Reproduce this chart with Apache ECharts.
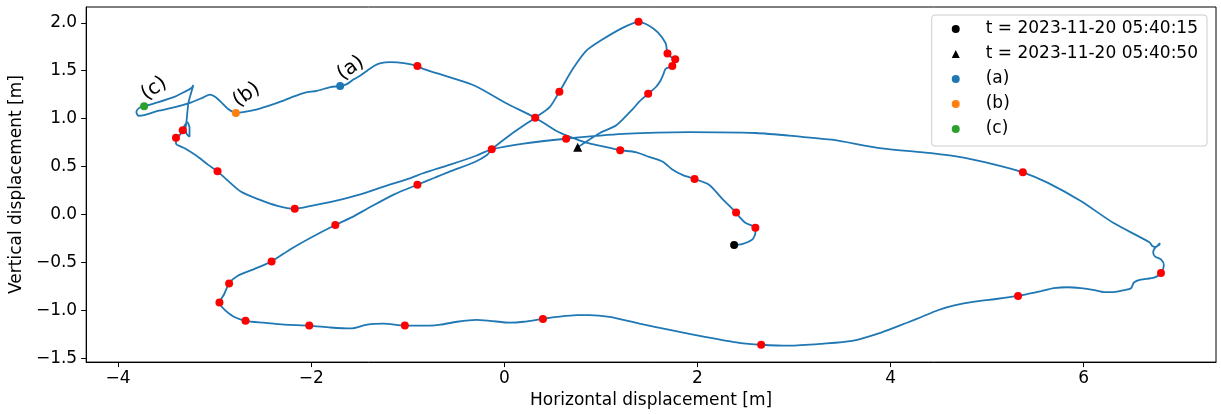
<!DOCTYPE html>
<html>
<head>
<meta charset="utf-8">
<script src="https://cdn.jsdelivr.net/npm/echarts@6/dist/echarts.min.js"></script>
<style>
  html, body { margin: 0; padding: 0; background: #fff; }
  #chart { width: 1221px; height: 414px; }
</style>
</head>
<body>
<div id="chart"></div>
<script>
// Trajectory of the tracked point, in time order (metres)
const pathX = [
  2.38, 2.46, 2.57, 2.60, 2.60, 2.50, 2.43, 2.40, 2.26, 2.12,
  1.97, 1.85, 1.74, 1.64, 1.50, 1.36, 1.20, 1.02, 0.85, 0.68,
  0.54, 0.32, 0.02, -0.30, -0.56, -0.84, -0.90, -1.04, -1.18, -1.28,
  -1.35, -1.42, -1.49, -1.56, -1.63, -1.70, -1.80, -1.94, -2.07, -2.21,
  -2.31, -2.42, -2.55, -2.69, -2.78, -2.86, -2.93, -3.00, -3.05, -3.12,
  -3.24, -3.41, -3.59, -3.72, -3.79, -3.81, -3.77, -3.73, -3.59, -3.41,
  -3.31, -3.24, -3.22, -3.24, -3.27, -3.28, -3.29, -3.30, -3.29, -3.26,
  -3.26, -3.28, -3.31, -3.33, -3.36, -3.40, -3.40, -3.31, -3.17, -3.07,
  -2.97, -2.86, -2.73, -2.55, -2.35, -2.17, -2.00, -1.76, -1.49, -1.25,
  -0.97, -0.84, -0.56, -0.30, -0.13, 0.20, 0.64, 1.23, 1.91, 2.60,
  3.08, 3.39, 3.91, 4.42, 4.77, 5.08, 5.37, 5.63, 5.97, 6.31,
  6.68, 6.71, 6.74, 6.78, 6.79, 6.76, 6.73, 6.72, 6.74, 6.80,
  6.83, 6.80, 6.73, 6.59, 6.52, 6.49, 6.42, 6.31, 6.21, 6.11,
  5.97, 5.83, 5.69, 5.56, 5.42, 5.32, 5.11, 4.87, 4.66, 4.49,
  4.32, 4.17, 3.91, 3.60, 3.29, 2.95, 2.66, 2.43, 2.09, 1.74,
  1.40, 1.09, 0.88, 0.75, 0.54, 0.40, 0.20, 0.06, -0.15, -0.29,
  -0.49, -0.66, -0.77, -1.03, -1.25, -1.42, -1.59, -1.80, -2.02, -2.28,
  -2.49, -2.68, -2.83, -2.95, -2.90, -2.85, -2.76, -2.59, -2.41, -2.21,
  -2.00, -1.75, -1.56, -1.42, -1.14, -0.90, -0.73, -0.56, -0.30, -0.18,
  -0.13, 0.06, 0.32, 0.47, 0.57, 0.71, 0.85, 0.99, 1.23, 1.39,
  1.50, 1.59, 1.67, 1.68, 1.69, 1.73, 1.77, 1.74, 1.67, 1.65,
  1.62, 1.57, 1.49, 1.40, 1.33, 1.16, 0.99, 0.76
];
const pathY = [
  -0.32, -0.31, -0.26, -0.19, -0.14, -0.09, -0.02, 0.02, 0.16, 0.31,
  0.37, 0.41, 0.47, 0.55, 0.60, 0.65, 0.67, 0.71, 0.75, 0.81,
  0.87, 1.01, 1.16, 1.34, 1.43, 1.52, 1.55, 1.58, 1.59, 1.58,
  1.55, 1.50, 1.45, 1.41, 1.36, 1.34, 1.33, 1.29, 1.27, 1.22,
  1.18, 1.14, 1.10, 1.07, 1.06, 1.10, 1.17, 1.23, 1.25, 1.22,
  1.17, 1.12, 1.08, 1.04, 1.03, 1.07, 1.12, 1.13, 1.17, 1.23,
  1.28, 1.32, 1.35, 1.28, 1.17, 1.09, 0.98, 0.90, 0.84, 0.81,
  0.90, 0.96, 0.93, 0.88, 0.83, 0.80, 0.74, 0.69, 0.60, 0.52,
  0.45, 0.35, 0.24, 0.16, 0.09, 0.06, 0.09, 0.14, 0.21, 0.29,
  0.38, 0.43, 0.52, 0.61, 0.68, 0.74, 0.79, 0.84, 0.86, 0.85,
  0.81, 0.78, 0.69, 0.64, 0.59, 0.52, 0.44, 0.33, 0.14, -0.09,
  -0.29, -0.33, -0.34, -0.32, -0.30, -0.33, -0.36, -0.40, -0.44, -0.47,
  -0.53, -0.61, -0.66, -0.68, -0.71, -0.77, -0.79, -0.81, -0.81, -0.79,
  -0.77, -0.76, -0.77, -0.80, -0.83, -0.85, -0.88, -0.91, -0.95, -1.00,
  -1.07, -1.13, -1.23, -1.32, -1.35, -1.37, -1.36, -1.34, -1.28, -1.21,
  -1.14, -1.07, -1.05, -1.05, -1.07, -1.09, -1.12, -1.13, -1.11, -1.10,
  -1.12, -1.15, -1.16, -1.16, -1.14, -1.15, -1.19, -1.18, -1.16, -1.15,
  -1.13, -1.11, -1.05, -0.92, -0.83, -0.72, -0.64, -0.57, -0.49, -0.36,
  -0.24, -0.11, -0.02, 0.06, 0.21, 0.31, 0.38, 0.45, 0.55, 0.62,
  0.68, 0.83, 1.01, 1.12, 1.28, 1.52, 1.71, 1.81, 1.95, 2.01,
  1.97, 1.90, 1.79, 1.74, 1.68, 1.64, 1.62, 1.55, 1.52, 1.47,
  1.40, 1.33, 1.26, 1.18, 1.10, 0.93, 0.85, 0.70
];

// Regularly sampled positions along the trajectory
const sampleX = [
  2.60, 2.40, 1.97, 1.20, 0.64, 0.32, 0.57, 1.39, 1.69, 1.77,
  1.74, 1.49, -0.13, -0.90, -3.33, -3.40, -2.97, -2.17, -0.90, -1.75,
  5.37, 6.80, 5.32, 2.66, 0.40, -1.03, -2.02, -2.68, -2.95, -2.85, -2.41
];
const sampleY = [
  -0.14, 0.02, 0.37, 0.67, 0.79, 1.01, 1.28, 2.01, 1.68, 1.62,
  1.55, 1.26, 0.68, 1.55, 0.88, 0.80, 0.45, 0.06, 0.31, -0.11,
  0.44, -0.61, -0.85, -1.36, -1.09, -1.16, -1.16, -1.11, -0.92, -0.72, -0.49
];

// Start and end of the record
const startName = 't = 2023-11-20 05:40:15';
const endName = 't = 2023-11-20 05:40:50';
const startPoint = [2.38, -0.32];
const endPoint = [0.76, 0.70];

// Marked positions
const tagNames = ['(a)', '(b)', '(c)'];
const tagX = [-1.70, -2.78, -3.73];
const tagY = [1.34, 1.06, 1.13];
const tagColors = ['#1f77b4', '#ff7f0e', '#2ca02c'];

// Axis ticks
const xTicks = [-4, -2, 0, 2, 4, 6];
const yTicks = [-1.5, -1.0, -0.5, 0.0, 0.5, 1.0, 1.5, 2.0];

const FONT = 'DejaVu Sans';
const minus = s => s.replace('-', '\u2212');

const pathData = pathX.map((x, i) => [x, pathY[i]]);
const sampleData = sampleX.map((x, i) => [x, sampleY[i]]);

const series = [
  {
    type: 'line',
    data: pathData,
    showSymbol: false,
    smooth: 0.25,
    lineStyle: { color: '#1f77b4', width: 1.8 },
    silent: true,
    z: 2
  },
  {
    type: 'scatter',
    data: sampleData,
    symbol: 'circle',
    symbolSize: 8,
    itemStyle: { color: '#ff0000', opacity: 1 },
    z: 3
  },
  {
    name: startName,
    type: 'scatter',
    data: [startPoint],
    symbol: 'circle',
    symbolSize: 8,
    itemStyle: { color: '#000000', opacity: 1 },
    z: 4
  },
  {
    name: endName,
    type: 'scatter',
    data: [endPoint],
    symbol: 'triangle',
    symbolSize: 9,
    itemStyle: { color: '#000000', opacity: 1 },
    z: 4
  }
];

tagNames.forEach((name, i) => {
  series.push({
    name: name,
    type: 'scatter',
    data: [[tagX[i], tagY[i]]],
    symbol: 'circle',
    symbolSize: 8,
    itemStyle: { color: tagColors[i], opacity: 1 },
    label: {
      show: true,
      formatter: name,
      position: 'right',
      distance: 2,
      rotate: 35,
      align: 'left',
      verticalAlign: 'bottom',
      offset: [0, -2],
      fontFamily: FONT,
      fontSize: 20,
      color: '#000'
    },
    z: 4
  });
});

const chart = echarts.init(document.getElementById('chart'), null, { renderer: 'canvas' });
chart.setOption({
  animation: false,
  backgroundColor: '#fff',
  textStyle: { fontFamily: FONT },
  grid: {
    left: 81, right: 5, top: 7, bottom: 48,
    show: true, borderColor: '#000', borderWidth: 1, backgroundColor: 'transparent'
  },
  legend: {
    orient: 'vertical',
    right: 14,
    top: 15,
    data: [
      { name: startName, icon: 'circle' },
      { name: endName, icon: 'triangle' },
      { name: '(a)', icon: 'circle' },
      { name: '(b)', icon: 'circle' },
      { name: '(c)', icon: 'circle' }
    ],
    itemWidth: 8,
    itemHeight: 8,
    itemGap: 5,
    padding: [4, 9, 7, 20],
    backgroundColor: '#fff',
    borderColor: '#cccccc',
    borderWidth: 1,
    borderRadius: 3,
    selectedMode: false,
    itemStyle: { opacity: 1 },
    textStyle: {
      fontFamily: FONT,
      fontSize: 17,
      color: '#000',
      lineHeight: 20,
      padding: [0, 0, 0, 21]
    }
  },
  xAxis: {
    type: 'value',
    min: -4.33,
    max: 7.37,
    name: 'Horizontal displacement [m]',
    nameLocation: 'middle',
    nameGap: 28,
    nameTextStyle: { fontFamily: FONT, fontSize: 17, color: '#000' },
    axisLine: { onZero: false, lineStyle: { color: '#000', width: 1 } },
    axisTick: { show: true, customValues: xTicks, length: 5, lineStyle: { color: '#000', width: 1 } },
    axisLabel: {
      customValues: xTicks,
      margin: 8,
      fontFamily: FONT,
      fontSize: 17,
      color: '#000',
      formatter: v => minus(String(Math.round(v)))
    },
    splitLine: { show: false }
  },
  yAxis: {
    type: 'value',
    min: -1.541,
    max: 2.165,
    name: 'Vertical displacement [m]',
    nameLocation: 'middle',
    nameGap: 52,
    nameTextStyle: { fontFamily: FONT, fontSize: 17, color: '#000' },
    axisLine: { onZero: false, lineStyle: { color: '#000', width: 1 } },
    axisTick: { show: true, customValues: yTicks, length: 5, lineStyle: { color: '#000', width: 1 } },
    axisLabel: {
      customValues: yTicks,
      margin: 9,
      fontFamily: FONT,
      fontSize: 17,
      color: '#000',
      formatter: v => minus(v.toFixed(1))
    },
    splitLine: { show: false }
  },
  series: series
});
</script>
</body>
</html>
